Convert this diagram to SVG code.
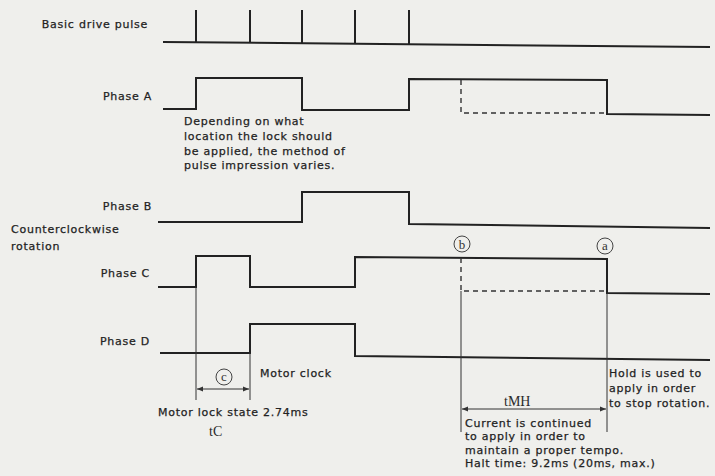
<svg xmlns="http://www.w3.org/2000/svg" width="715" height="476" viewBox="0 0 715 476">
<defs>
<style>
.sig{fill:none;stroke:#222;stroke-width:2;stroke-linejoin:miter}
.dash{fill:none;stroke:#333;stroke-width:1.4;stroke-dasharray:5,4}
.thin{fill:none;stroke:#333;stroke-width:1}
.lbl{font-family:"DejaVu Sans",sans-serif;font-size:11px;letter-spacing:0.75px;fill:#222;stroke:#222;stroke-width:0.25}
.end{text-anchor:end}
.ser{font-family:"Liberation Serif",serif;font-size:14px;fill:#2a2a2a}
.circ{fill:none;stroke:#444;stroke-width:1}
.cl{font-family:"Liberation Serif",serif;font-size:13px;fill:#333;text-anchor:middle}
</style>
<marker id="ah" viewBox="0 0 10 10" refX="10" refY="5" markerWidth="8" markerHeight="6" orient="auto-start-reverse" markerUnits="userSpaceOnUse">
<path d="M0,1 L10,5 L0,9 Z" fill="#333"/>
</marker>
</defs>
<rect width="715" height="476" fill="#efefec"/>

<g id="basic-drive-pulse">
<text class="lbl end" x="148" y="28">Basic drive pulse</text>
<path class="sig" d="M163,42 L710,47 M196,10 V42.3 M250,10 V42.8 M302,10 V43.3 M355,10 V43.8 M409,10 V44.3"/>
</g>

<g id="phase-a">
<text class="lbl end" x="152" y="100">Phase A</text>
<path class="sig" d="M163,109 H196 V78 H302 V110 H409 V79 L607,80 V114 L710,115"/>
<path class="dash" d="M461,80 V113 H607"/>
<text class="lbl" x="184" y="125">Depending on what</text>
<text class="lbl" x="184" y="140">location the lock should</text>
<text class="lbl" x="184" y="155">be applied, the method of</text>
<text class="lbl" x="184" y="169">pulse impression varies.</text>
</g>

<g id="phase-b">
<text class="lbl end" x="152" y="210">Phase B</text>
<path class="sig" d="M158,222 H302 V192 H409 V224 L710,228"/>
</g>

<g id="rotation-label">
<text class="lbl" x="11" y="233">Counterclockwise</text>
<text class="lbl" x="11" y="250">rotation</text>
</g>

<g id="phase-c">
<text class="lbl end" x="150" y="277">Phase C</text>
<path class="sig" d="M158,287 H196 V256 H250 V287 H355 V257 L607,259 V293 L710,294"/>
<path class="dash" d="M461,258 V291 H607"/>
</g>

<g id="phase-d">
<text class="lbl end" x="150" y="345">Phase D</text>
<path class="sig" d="M160,353 H250 V324 H355 V356 L710,360"/>
<text class="lbl" x="260" y="377">Motor clock</text>
</g>

<g id="marker-b">
<circle class="circ" cx="462" cy="244" r="8"/>
<text class="cl" x="462" y="248.5">b</text>
</g>
<g id="marker-a">
<circle class="circ" cx="605" cy="246" r="8"/>
<text class="cl" x="605" y="250">a</text>
</g>
<g id="marker-c">
<circle class="circ" cx="224" cy="377" r="8"/>
<text class="cl" x="224" y="381">c</text>
</g>

<g id="tc-interval">
<text class="lbl" x="158" y="416">Motor lock state 2.74ms</text>
<text class="ser" x="209" y="436">tC</text>
</g>

<g id="tmh-interval">
<text class="ser" x="504" y="406">tMH</text>
<text class="lbl" x="609" y="377">Hold is used to</text>
<text class="lbl" x="609" y="392">apply in order</text>
<text class="lbl" x="609" y="407">to stop rotation.</text>
<text class="lbl" x="465" y="427">Current is continued</text>
<text class="lbl" x="465" y="440">to apply in order to</text>
<text class="lbl" x="465" y="454">maintain a proper tempo.</text>
<text class="lbl" x="465" y="467">Halt time: 9.2ms (20ms, max.)</text>
</g>

<g id="connectors">
<path class="thin" d="M196,287 V400 M250,353 V400 M461,291 V432 M607,293 V432"/>
<line class="thin" x1="197" y1="389" x2="249" y2="389" marker-start="url(#ah)" marker-end="url(#ah)"/>
<line class="thin" x1="462" y1="409" x2="606" y2="409" marker-start="url(#ah)" marker-end="url(#ah)"/>
</g>
</svg>
